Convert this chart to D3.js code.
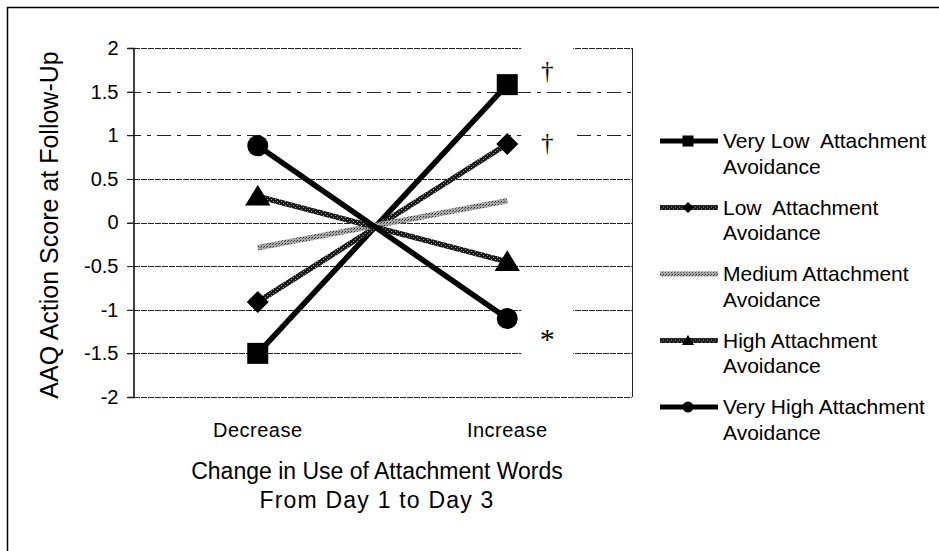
<!DOCTYPE html>
<html>
<head>
<meta charset="utf-8">
<script src="https://cdn.jsdelivr.net/npm/d3@7"></script>
<style>
  body { margin: 0; background: #fff; }
  svg { display: block; font-family: "Liberation Sans", Arial, sans-serif; }
</style>
</head>
<body>
<div id="chart"></div>
<script>
// data
const categories = ["Decrease", "Increase"];
const seriesNames = [
  ["Very Low  Attachment", "Avoidance"],
  ["Low  Attachment", "Avoidance"],
  ["Medium Attachment", "Avoidance"],
  ["High Attachment", "Avoidance"],
  ["Very High Attachment", "Avoidance"]
];
const veryLowValues = [-1.5, 1.58];
const lowValues = [-0.91, 0.9];
const mediumValues = [-0.29, 0.25];
const highValues = [0.3, -0.45];
const veryHighValues = [0.88, -1.1];
const yTicks = [-2, -1.5, -1, -0.5, 0, 0.5, 1, 1.5, 2];
const annotations = [
  { cat: "Increase", value: 1.75, text: "\u2020", size: 25 },
  { cat: "Increase", value: 0.92, text: "\u2020", size: 25 },
  { cat: "Increase", value: -1.33, text: "*", size: 30 }
];

const series = [
  { name: seriesNames[0], values: veryLowValues, stroke: "#000", marker: "square" },
  { name: seriesNames[1], values: lowValues, stroke: "url(#hatchDark)", marker: "diamond" },
  { name: seriesNames[2], values: mediumValues, stroke: "url(#hatchLight)", marker: null },
  { name: seriesNames[3], values: highValues, stroke: "url(#hatchDark)", marker: "triangle" },
  { name: seriesNames[4], values: veryHighValues, stroke: "#000", marker: "circle" }
];

const width = 939, height = 551;
const plot = { left: 133, right: 632, top: 48, bottom: 397 };

const svg = d3.select("#chart").append("svg")
  .attr("width", width)
  .attr("height", height);

/* textures for the grey lines */
const defs = svg.append("defs");
const dark = defs.append("pattern").attr("id", "hatchDark")
  .attr("patternUnits", "userSpaceOnUse").attr("width", 4).attr("height", 4);
dark.append("rect").attr("width", 4).attr("height", 4).attr("fill", "#1a1a1a");
dark.append("rect").attr("x", 1).attr("y", 1).attr("width", 1).attr("height", 1).attr("fill", "#9a9a9a");
dark.append("rect").attr("x", 3).attr("y", 3).attr("width", 1).attr("height", 1).attr("fill", "#9a9a9a");
const light = defs.append("pattern").attr("id", "hatchLight")
  .attr("patternUnits", "userSpaceOnUse").attr("width", 3).attr("height", 3);
light.append("rect").attr("width", 3).attr("height", 3).attr("fill", "#a8a8a8");
light.append("rect").attr("x", 0).attr("y", 0).attr("width", 1).attr("height", 1).attr("fill", "#333");
light.append("rect").attr("x", 2).attr("y", 1).attr("width", 1).attr("height", 1).attr("fill", "#555");

// scan frame (top and left edges only)
svg.append("line").attr("x1", 7).attr("x2", width).attr("y1", 7.5).attr("y2", 7.5)
  .attr("stroke", "#000").attr("stroke-width", 1.5);
svg.append("line").attr("x1", 7.5).attr("x2", 7.5).attr("y1", 7).attr("y2", height)
  .attr("stroke", "#000").attr("stroke-width", 1.5);

const x = d3.scalePoint().domain(categories).range([plot.left, plot.right]).padding(0.5);
const y = d3.scaleLinear().domain([-2, 2]).range([plot.bottom, plot.top]);

/* gridlines */
svg.append("g").attr("class", "grid")
  .selectAll("line")
  .data(yTicks).enter()
  .append("line")
  .attr("x1", plot.left - 6)
  .attr("x2", plot.right)
  .attr("y1", d => Math.round(y(d)) + 0.5)
  .attr("y2", d => Math.round(y(d)) + 0.5)
  .attr("stroke", "#222")
  .attr("stroke-width", 1)
  .attr("stroke-dasharray", d => (d === 1 || d === 1.5) ? "14,6,4,6" : "6,1");

// right edge of plot area
svg.append("line")
  .attr("x1", plot.right + 0.5).attr("x2", plot.right + 0.5)
  .attr("y1", y(2)).attr("y2", y(-2))
  .attr("stroke", "#222").attr("stroke-width", 1);

/* annotation boxes hide the grid behind them */
svg.append("g").selectAll("rect")
  .data([[40, 58], [125, 160], [298, 362]]).enter()
  .append("rect")
  .attr("x", x("Increase") + 14)
  .attr("width", 52)
  .attr("y", d => d[0])
  .attr("height", d => d[1] - d[0])
  .attr("fill", "#fff");

/* y axis */
const yAxis = d3.axisLeft(y).tickValues(yTicks).tickSize(6).tickPadding(9)
  .tickFormat(d => String(d));
const yg = svg.append("g")
  .attr("transform", `translate(${plot.left + 0.5},0)`)
  .call(yAxis);
yg.attr("font-size", 20).attr("font-family", "Liberation Sans, Arial, sans-serif");
yg.select(".domain").attr("stroke", "#000").attr("stroke-width", 1.5);
yg.selectAll(".tick line").attr("stroke", "#222");
yg.selectAll(".tick text").attr("fill", "#000");

/* x category labels */
svg.append("g").selectAll("text")
  .data(categories).enter()
  .append("text")
  .attr("x", d => x(d))
  .attr("y", 437)
  .attr("text-anchor", "middle")
  .attr("font-size", 20)
  .attr("letter-spacing", 0.5)
  .text(d => d);

/* axis titles */
svg.append("text")
  .attr("transform", `translate(58, 225) rotate(-90)`)
  .attr("text-anchor", "middle")
  .attr("font-size", 25)
  .text("AAQ Action Score at Follow-Up");

svg.append("text")
  .attr("x", 377).attr("y", 479)
  .attr("text-anchor", "middle")
  .attr("font-size", 23)
  .text("Change in Use of Attachment Words");
svg.append("text")
  .attr("x", 377).attr("y", 508)
  .attr("text-anchor", "middle")
  .attr("font-size", 23)
  .attr("letter-spacing", 1.2)
  .text("From Day 1 to Day 3");

/* markers */
function drawMarker(g, type, cx, cy, s, color) {
  if (type === "square") {
    g.append("rect").attr("x", cx - s / 2).attr("y", cy - s / 2)
      .attr("width", s).attr("height", s).attr("fill", color);
  } else if (type === "circle") {
    g.append("circle").attr("cx", cx).attr("cy", cy).attr("r", s / 2).attr("fill", color);
  } else if (type === "diamond") {
    const h = s / 2;
    g.append("path").attr("d", `M${cx},${cy - h}L${cx + h},${cy}L${cx},${cy + h}L${cx - h},${cy}Z`)
      .attr("fill", color);
  } else if (type === "triangle") {
    const h = s / 2;
    g.append("path").attr("d", `M${cx},${cy - h}L${cx + h * 1.1},${cy + h * 0.8}L${cx - h * 1.1},${cy + h * 0.8}Z`)
      .attr("fill", color);
  }
}

/* lines */
const line = d3.line()
  .x((d, i) => x(categories[i]))
  .y(d => y(d));

const lines = svg.append("g").attr("class", "lines");
series.forEach(s => {
  const g = lines.append("g");
  g.append("path")
    .attr("d", line(s.values))
    .attr("fill", "none")
    .attr("stroke", s.stroke)
    .attr("stroke-width", 5.5);
  if (s.marker) {
    s.values.forEach((v, i) => {
      const size = s.marker === "diamond" ? 22 : (s.marker === "triangle" ? 23 : 21);
      drawMarker(g, s.marker, x(categories[i]), y(v), size, "#000");
    });
  }
});

/* significance marks */
svg.append("g").selectAll("text")
  .data(annotations).enter()
  .append("text")
  .attr("x", d => x(d.cat) + 40)
  .attr("y", d => y(d.value))
  .attr("dy", "0.35em")
  .attr("text-anchor", "middle")
  .attr("font-family", "Liberation Serif, Times New Roman, serif")
  .attr("font-size", d => d.size)
  .text(d => d.text);

/* legend */
const legend = svg.append("g").attr("class", "legend")
  .attr("transform", "translate(660, 141)");
const rowH = 66.5;
series.forEach((s, i) => {
  const row = legend.append("g").attr("transform", `translate(0, ${i * rowH})`);
  row.append("line")
    .attr("x1", 0).attr("x2", 58).attr("y1", 0).attr("y2", 0)
    .attr("stroke", s.stroke).attr("stroke-width", 5);
  if (s.marker) drawMarker(row, s.marker, 28, 0, 11, "#000");
  s.name.forEach((t, j) => {
    row.append("text")
      .attr("x", 63)
      .attr("y", j * 25.5)
      .attr("dy", "0.35em")
      .attr("font-size", 21)
      .attr("xml:space", "preserve")
      .style("white-space", "pre")
      .text(t);
  });
});
</script>
</body>
</html>
